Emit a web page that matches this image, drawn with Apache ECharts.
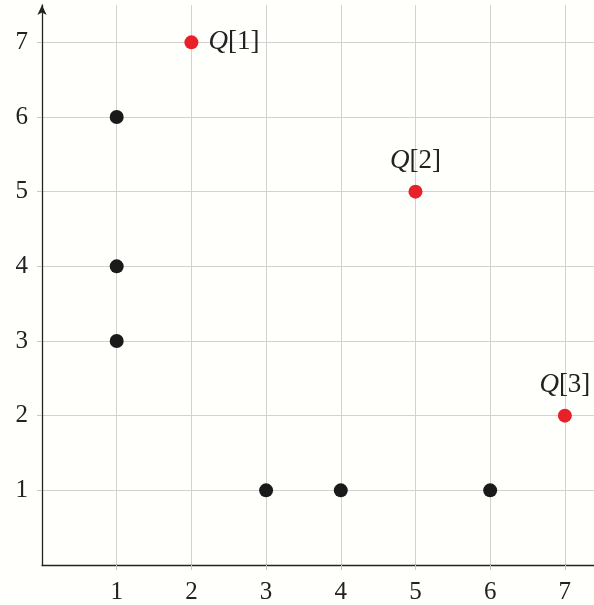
<!DOCTYPE html>
<html><head><meta charset="utf-8">
<script src="https://cdn.jsdelivr.net/npm/echarts@6/dist/echarts.min.js"></script>
<style>html,body{margin:0;padding:0;background:#fffffc;}#c{width:594px;height:605px;}</style>
</head><body><div id="c"></div>
<script>
const tickValues = [1, 2, 3, 4, 5, 6, 7];
const blackPoints = [[1, 6], [1, 4], [1, 3], [3, 1], [4, 1], [6, 1]];
const redPoints = [[2, 7], [5, 5], [7, 2]];
const redLabels = ['1', '2', '3'];
const redLabelPos = ['right', 'top', 'top'];

const font = '"Liberation Serif", "Times New Roman", serif';
const chart = echarts.init(document.getElementById('c'));
const axisCommon = {
  min: 0,
  interval: 1,
  axisLine: { show: true, lineStyle: { color: '#222', width: 1.3 } },
  axisTick: { show: true, customValues: tickValues, length: 5, lineStyle: { color: '#c8c8c8', width: 1 } },
  axisLabel: { customValues: tickValues, color: '#222', fontFamily: font, fontSize: 25 },
  splitLine: { show: true, lineStyle: { color: '#d2d2d2', width: 1 } }
};
chart.setOption({
  backgroundColor: '#fffffc',
  animation: false,
  grid: { left: 42, right: 0, top: 5, bottom: 39, containLabel: false },
  xAxis: Object.assign({}, axisCommon, {
    type: 'value', max: 7.39,
    axisLabel: Object.assign({}, axisCommon.axisLabel, { margin: 15 })
  }),
  yAxis: Object.assign({}, axisCommon, {
    type: 'value', max: 7.5,
    axisLine: { show: true, symbol: ['none', 'arrow'], symbolSize: [7, 10], lineStyle: { color: '#222', width: 1.3 } },
    axisLabel: Object.assign({}, axisCommon.axisLabel, { margin: 14 })
  }),
  series: [
    {
      type: 'scatter', symbolSize: 14, data: blackPoints,
      itemStyle: { color: '#1a1a1a', opacity: 1 }
    },
    {
      type: 'scatter', symbolSize: 14,
      data: redPoints.map((p, i) => ({
        value: p,
        label: {
          show: true, position: redLabelPos[i], distance: redLabelPos[i] === 'right' ? 10 : 10,
          formatter: '{i|Q}{n|[' + redLabels[i] + ']}',
          rich: {
            i: { fontFamily: font, fontStyle: 'italic', fontSize: 27, color: '#222' },
            n: { fontFamily: font, fontSize: 27, color: '#222' }
          }
        }
      })),
      itemStyle: { color: '#e8202a', opacity: 1 }
    }
  ]
});
</script></body></html>
